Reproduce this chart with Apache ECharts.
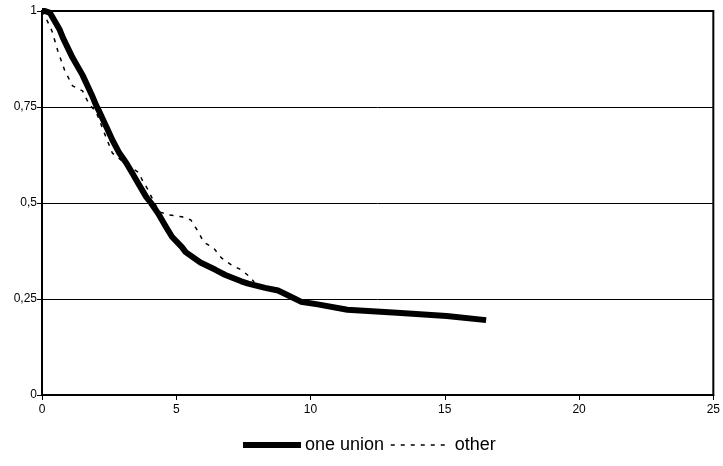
<!DOCTYPE html>
<html>
<head>
<meta charset="utf-8">
<script src="https://cdn.jsdelivr.net/npm/echarts@6/dist/echarts.min.js"></script>
<style>
html,body{margin:0;padding:0;background:#fff;}
#chart{width:723px;height:466px;}
</style>
</head>
<body>
<div id="chart"></div>
<script>
// x = years, y = survival proportion
const unionX = [0, 0.11, 0.30, 0.66, 0.78, 1.14, 1.51, 1.85, 2.03, 2.14, 2.40, 2.62, 2.88, 3.14, 3.36, 3.51, 3.88, 4.06, 4.36, 4.62, 4.84, 5.21, 5.35, 5.90, 6.46, 6.83, 7.42, 7.68, 8.31, 8.79, 9.27, 9.64, 10.27, 11.37, 13.22, 15.07, 16.54];
const unionY = [1, 1.0, 0.995, 0.951, 0.930, 0.878, 0.833, 0.782, 0.752, 0.737, 0.698, 0.664, 0.630, 0.604, 0.578, 0.560, 0.516, 0.50, 0.469, 0.4375, 0.412, 0.385, 0.372, 0.345, 0.326, 0.3125, 0.296, 0.290, 0.279, 0.272, 0.256, 0.243, 0.236, 0.222, 0.214, 0.206, 0.195];
const otherX = [0, 0.11, 0.37, 0.59, 0.85, 1.14, 1.51, 1.77, 2.0, 2.25, 2.62, 3.18, 3.62, 3.73, 3.91, 4.36, 4.73, 5.21, 5.54, 5.83, 6.02, 6.39, 6.68, 7.05, 7.42, 7.75, 7.90];
const otherY = [1, 0.987, 0.948, 0.896, 0.844, 0.805, 0.792, 0.755, 0.74, 0.695, 0.630, 0.599, 0.578, 0.560, 0.539, 0.477, 0.469, 0.464, 0.456, 0.424, 0.398, 0.383, 0.357, 0.339, 0.326, 0.307, 0.294];
const xTicks = [0, 5, 10, 15, 20, 25];
const yTicks = [0, 0.25, 0.5, 0.75, 1];
const seriesNames = ['one union', 'other'];

const zip = (xs, ys) => xs.map((x, i) => [x, ys[i]]);
const FONT = '"Liberation Sans", Arial, sans-serif';

const chart = echarts.init(document.getElementById('chart'), null, {renderer: 'canvas'});
const legendBase = {
  top: 436, itemHeight: 8, itemGap: 0, padding: 0,
  textStyle: {fontFamily: FONT, fontSize: 18, color: '#000', padding: [0, 0, 0, -1]},
  itemStyle: {color: 'transparent', borderWidth: 0, opacity: 0}
};
chart.setOption({
  animation: false,
  backgroundColor: '#fff',
  grid: {
    left: 42, right: 5, top: 11, bottom: 71,
    show: true, borderColor: '#000', borderWidth: 2, backgroundColor: 'transparent'
  },
  legend: [
    Object.assign({}, legendBase, {
      data: [seriesNames[0]], left: 240, itemWidth: 58,
      lineStyle: {width: 6}
    }),
    Object.assign({}, legendBase, {
      data: [seriesNames[1]], left: 390, itemWidth: 60,
      lineStyle: {width: 1.5}
    })
  ],
  xAxis: {
    type: 'value', min: xTicks[0], max: xTicks[xTicks.length - 1], interval: 5,
    axisLine: {show: true, lineStyle: {color: '#000', width: 2}},
    axisTick: {show: true, length: 5, lineStyle: {color: '#000', width: 1}},
    axisLabel: {fontFamily: FONT, fontSize: 12, color: '#000', margin: 9},
    splitLine: {show: false}
  },
  yAxis: {
    type: 'value', min: yTicks[0], max: yTicks[yTicks.length - 1], interval: 0.25,
    axisLine: {show: true, lineStyle: {color: '#000', width: 2}},
    axisTick: {show: true, length: 5, lineStyle: {color: '#000', width: 1}},
    axisLabel: {fontFamily: FONT, fontSize: 12, color: '#000', margin: 5,
      formatter: v => String(v).replace('.', ',')},
    splitLine: {show: true, lineStyle: {color: '#000', width: 1}}
  },
  series: [
    {
      name: seriesNames[0], type: 'line', data: zip(unionX, unionY),
      symbol: 'none', smooth: false,
      lineStyle: {color: '#000', width: 6, join: 'round'},
      itemStyle: {color: '#000'}
    },
    {
      name: seriesNames[1], type: 'line', data: zip(otherX, otherY),
      symbol: 'none', smooth: false,
      lineStyle: {color: '#000', width: 1.5, type: [4, 6]},
      itemStyle: {color: '#000'}
    }
  ]
});
</script>
</body>
</html>
